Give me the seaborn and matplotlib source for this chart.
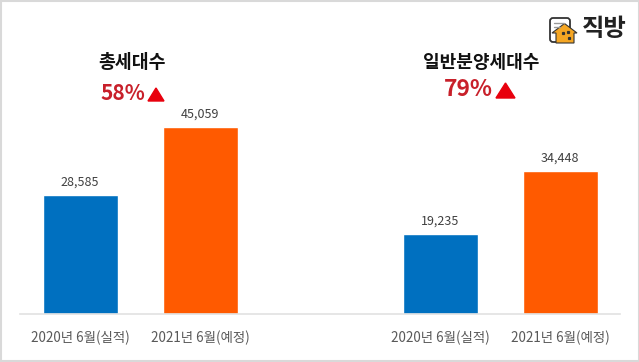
import matplotlib
matplotlib.use("Agg")
import matplotlib.pyplot as plt
import pandas as pd
import seaborn as sns
from matplotlib.patches import FancyBboxPatch, Polygon, Rectangle

# --- data ---
slots = ["total_2020", "total_2021", "gap", "general_2020", "general_2021"]
values = [28585, 45059, None, 19235, 34448]
bar_colors = ["#0070c0", "#ff5a00", "#ffffff", "#0070c0", "#ff5a00"]
tick_labels = ["2020년 6월(실적)", "2021년 6월(예정)", "", "2020년 6월(실적)", "2021년 6월(예정)"]
group_titles = ["총세대수", "일반분양세대수"]
group_changes = ["58%", "79%"]

W, H = 639, 362

sns.set_theme(style="white")
plt.rcParams["font.family"] = ["Noto Sans CJK KR", "DejaVu Sans"]

df = pd.DataFrame({"slot": slots, "value": values})

fig = plt.figure(figsize=(W / 100, H / 100), dpi=100, facecolor="white")

# 막대 영역: 픽셀 x 20~620, 기준선 y=314
ax = fig.add_axes([20 / W, (H - 314) / H, 600 / W, 207.5 / H])
sns.barplot(
    data=df,
    x="slot",
    y="value",
    hue="slot",
    order=slots,
    hue_order=slots,
    palette=bar_colors,
    legend=False,
    width=0.625,
    saturation=1,
    ax=ax,
)
ax.set_xlim(-60 / 120, 540 / 120)
ax.set_ylim(0, 50000)
ax.set_xlabel("")
ax.set_ylabel("")
ax.set_yticks([])
ax.set_xticks(range(len(slots)))
ax.set_xticklabels(tick_labels, fontsize=9.7, color="#595959")
ax.tick_params(axis="x", length=0, pad=12)
sns.despine(ax=ax, left=True)
ax.spines["bottom"].set_color("#e2e2e2")
ax.spines["bottom"].set_linewidth(1.2)

for i, v in enumerate(values):
    if v is not None:
        ax.annotate(f"{v:,}", (i, v), xytext=(0, 4.5), textcoords="offset points",
                    ha="center", va="bottom", fontsize=9, color="#404040")

# 오버레이: 픽셀 좌표
ov = fig.add_axes([0, 0, 1, 1], facecolor="none")
ov.set_xlim(0, W)
ov.set_ylim(H, 0)
ov.axis("off")

ov.add_patch(Rectangle((0.5, 0.5), W - 1, H - 1.5, fill=False, ec="#d9d9d9", lw=1.5))

ov.text(132, 63, group_titles[0], ha="center", va="center", fontsize=13.2, fontweight="bold", color="#111111")
ov.text(481, 63, group_titles[1], ha="center", va="center", fontsize=13, fontweight="bold", color="#111111")

ov.text(123, 93, group_changes[0], ha="center", va="center", fontsize=15, fontweight="bold", color="#c8202a")
ov.text(468, 89, group_changes[1], ha="center", va="center", fontsize=16.5, fontweight="bold", color="#c8202a")
ov.add_patch(Polygon([(148, 101), (164, 101), (156, 88)], color="#e8000d"))
ov.add_patch(Polygon([(496, 98), (515, 98), (505.5, 83)], color="#e8000d"))

# 로고
ov.add_patch(FancyBboxPatch((550, 18), 20, 24, boxstyle="round,pad=0,rounding_size=3",
                            fc="white", ec="#333333", lw=1.3))
ov.plot([554, 564], [23, 23], color="#999999", lw=1)
ov.plot([554, 560], [27, 27], color="#999999", lw=1)
ov.add_patch(Polygon([(552, 33), (564.5, 23.5), (577, 33), (574, 33), (574, 43), (556, 43), (556, 33)],
                     fc="#f5a623", ec="#333333", lw=0.8))
ov.plot([563, 568, 569], [33, 32, 38], ls="none", marker="s", ms=1.3, color="#333333")
ov.text(604.5, 29, "직방", ha="center", va="center", fontsize=17.5, fontweight="bold", color="#222222")

fig.savefig("out.png", dpi=100)
